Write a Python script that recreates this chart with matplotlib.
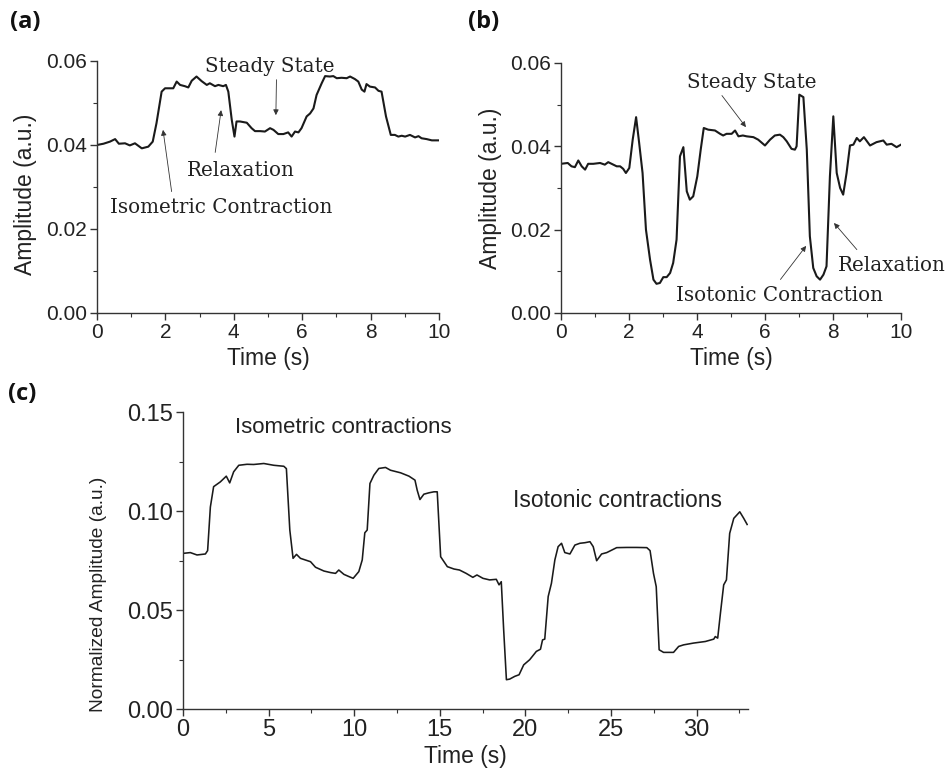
import matplotlib
matplotlib.use("Agg")
import matplotlib.pyplot as plt
from matplotlib.ticker import MultipleLocator, FormatStrFormatter
from matplotlib import font_manager

# ---------------- data ----------------
t_a = [0.0, 0.19, 0.38, 0.53, 0.64, 0.82, 0.96, 1.11, 1.31, 1.50, 1.63, 1.74, 1.89, 1.99,
       2.23, 2.33, 2.43, 2.57, 2.67, 2.77, 2.91, 3.06, 3.21, 3.30, 3.45, 3.55, 3.69, 3.77,
       3.84, 3.94, 4.02, 4.08, 4.18, 4.38, 4.52, 4.62, 4.77, 4.91, 5.06, 5.16, 5.30, 5.45,
       5.59, 5.69, 5.79, 5.89, 5.98, 6.13, 6.23, 6.33, 6.42, 6.57, 6.67, 6.81, 6.91, 7.01,
       7.15, 7.30, 7.40, 7.54, 7.64, 7.74, 7.82, 7.88, 7.98, 8.13, 8.23, 8.32, 8.45, 8.59,
       8.71, 8.81, 8.91, 9.01, 9.15, 9.30, 9.40, 9.49, 9.64, 9.79, 10.0]
amp_a = [0.0400, 0.0403, 0.0408, 0.0414, 0.0403, 0.0404, 0.0399, 0.0404, 0.0392, 0.0396,
         0.0408, 0.0452, 0.0527, 0.0535, 0.0535, 0.0551, 0.0543, 0.0540, 0.0537, 0.0553,
         0.0563, 0.0552, 0.0543, 0.0547, 0.0540, 0.0543, 0.0540, 0.0543, 0.0527, 0.0460,
         0.0420, 0.0456, 0.0456, 0.0453, 0.0440, 0.0433, 0.0433, 0.0432, 0.0440, 0.0436,
         0.0426, 0.0426, 0.0430, 0.0420, 0.0432, 0.0430, 0.0440, 0.0468, 0.0475, 0.0487,
         0.0519, 0.0547, 0.0564, 0.0563, 0.0564, 0.0559, 0.0560, 0.0559, 0.0563, 0.0557,
         0.0551, 0.0532, 0.0527, 0.0545, 0.0539, 0.0537, 0.0529, 0.0527, 0.0468, 0.0424,
         0.0424, 0.0420, 0.0422, 0.0420, 0.0424, 0.0418, 0.0421, 0.0416, 0.0414, 0.0411,
         0.0411]

t_b = [0.0, 0.2, 0.31, 0.41, 0.51, 0.61, 0.71, 0.80, 0.95, 1.15, 1.29, 1.39, 1.54, 1.64,
       1.74, 1.83, 1.91, 2.01, 2.11, 2.21, 2.30, 2.40, 2.50, 2.62, 2.72, 2.81, 2.91, 3.01,
       3.11, 3.21, 3.30, 3.40, 3.50, 3.60, 3.70, 3.79, 3.89, 4.01, 4.11, 4.20, 4.33, 4.53,
       4.68, 4.77, 4.87, 5.02, 5.12, 5.22, 5.35, 5.46, 5.66, 5.80, 6.00, 6.15, 6.29, 6.44,
       6.54, 6.64, 6.78, 6.88, 6.93, 7.01, 7.13, 7.23, 7.32, 7.42, 7.52, 7.62, 7.72, 7.81,
       7.91, 8.01, 8.11, 8.21, 8.30, 8.40, 8.50, 8.60, 8.70, 8.79, 8.91, 9.09, 9.28, 9.48,
       9.58, 9.72, 9.87, 10.0]
amp_b = [0.0358, 0.0360, 0.0352, 0.0350, 0.0366, 0.0352, 0.0344, 0.0358, 0.0358, 0.0360,
         0.0356, 0.0362, 0.0356, 0.0352, 0.0352, 0.0346, 0.0336, 0.0348, 0.0416, 0.0470,
         0.0408, 0.0336, 0.0200, 0.0128, 0.0080, 0.0070, 0.0072, 0.0086, 0.0086, 0.0096,
         0.0120, 0.0176, 0.0376, 0.0398, 0.0292, 0.0272, 0.0280, 0.0328, 0.0392, 0.0444,
         0.0440, 0.0438, 0.0430, 0.0426, 0.0430, 0.0430, 0.0438, 0.0424, 0.0426, 0.0424,
         0.0422, 0.0416, 0.0402, 0.0416, 0.0426, 0.0428, 0.0422, 0.0412, 0.0394, 0.0392,
         0.0400, 0.0524, 0.0518, 0.0392, 0.0184, 0.0108, 0.0088, 0.0080, 0.0092, 0.0112,
         0.0328, 0.0472, 0.0336, 0.0300, 0.0284, 0.0336, 0.0402, 0.0404, 0.0420, 0.0412,
         0.0422, 0.0402, 0.0410, 0.0414, 0.0404, 0.0406, 0.0398, 0.0404]

t_c = [0.0, 0.43, 0.82, 1.31, 1.44, 1.60, 1.79, 2.18, 2.53, 2.73, 2.96, 3.26, 3.74, 4.13,
       4.72, 5.30, 5.89, 6.04, 6.24, 6.43, 6.63, 6.86, 7.45, 7.74, 8.23, 8.62, 8.91, 9.10,
       9.40, 9.69, 9.94, 10.27, 10.47, 10.62, 10.76, 10.92, 11.15, 11.44, 11.83, 12.12,
       12.71, 13.20, 13.55, 13.68, 13.84, 14.07, 14.37, 14.66, 14.85, 15.05, 15.44, 15.83,
       16.15, 16.54, 16.93, 17.17, 17.52, 17.91, 18.30, 18.46, 18.59, 18.73, 18.89, 19.08,
       19.38, 19.63, 19.90, 20.25, 20.64, 20.88, 21.00, 21.13, 21.33, 21.52, 21.72, 21.91,
       22.11, 22.30, 22.60, 22.89, 23.18, 23.48, 23.77, 23.96, 24.16, 24.45, 24.75, 25.33,
       25.92, 26.50, 27.09, 27.28, 27.48, 27.64, 27.81, 28.07, 28.65, 28.95, 29.24, 29.82,
       30.51, 31.00, 31.09, 31.23, 31.39, 31.58, 31.74, 31.93, 32.17, 32.52, 32.75, 32.95]
amp_c = [0.0786, 0.0790, 0.0778, 0.0783, 0.0800, 0.1020, 0.1123, 0.1147, 0.1176, 0.1142,
         0.1198, 0.1231, 0.1236, 0.1235, 0.1240, 0.1231, 0.1226, 0.1214, 0.0904, 0.0761,
         0.0781, 0.0761, 0.0744, 0.0716, 0.0697, 0.0689, 0.0685, 0.0702, 0.0680, 0.0669,
         0.0660, 0.0694, 0.0753, 0.0890, 0.0904, 0.1139, 0.1181, 0.1215, 0.1220, 0.1206,
         0.1193, 0.1176, 0.1156, 0.1105, 0.1058, 0.1085, 0.1092, 0.1097, 0.1097, 0.0769,
         0.0719, 0.0707, 0.0702, 0.0685, 0.0665, 0.0677, 0.0660, 0.0652, 0.0655, 0.0627,
         0.0643, 0.0400, 0.0148, 0.0151, 0.0165, 0.0173, 0.0223, 0.0249, 0.0291, 0.0302,
         0.0349, 0.0353, 0.0568, 0.0635, 0.0753, 0.0820, 0.0837, 0.0790, 0.0783, 0.0828,
         0.0837, 0.0840, 0.0845, 0.0820, 0.0749, 0.0783, 0.0790, 0.0815, 0.0816, 0.0816,
         0.0815, 0.0800, 0.0685, 0.0618, 0.0299, 0.0286, 0.0286, 0.0316, 0.0324, 0.0333,
         0.0341, 0.0353, 0.0366, 0.0358, 0.0484, 0.0627, 0.0652, 0.0887, 0.0963, 0.0996,
         0.0963, 0.0932]

# ---------------- style ----------------
plt.rcParams['font.family'] = ['Liberation Sans', 'DejaVu Sans']
SERIF = ['DejaVu Serif']
AX_COL = '#333333'
TXT_COL = '#222222'

_names = {f.name for f in font_manager.fontManager.ttflist}
if 'Liberation Sans Narrow' in _names:
    NARROW, NARROW_FS = ['Liberation Sans Narrow', 'DejaVu Sans'], 16.5
else:
    NARROW, NARROW_FS = ['Liberation Sans', 'DejaVu Sans'], 13.8

fig = plt.figure(figsize=(9.49, 7.72), dpi=100)
ax_a = fig.add_axes([0.1022, 0.5946, 0.3604, 0.3264])
ax_b = fig.add_axes([0.5911, 0.5946, 0.3583, 0.3238])
ax_c = fig.add_axes([0.1928, 0.0816, 0.5954, 0.3847])


def style(ax, xmaj, xmin, ymaj, ymin, tick_fs):
    for s in ('top', 'right'):
        ax.spines[s].set_visible(False)
    for s in ('left', 'bottom'):
        ax.spines[s].set_color(AX_COL)
        ax.spines[s].set_linewidth(1.0)
    ax.xaxis.set_major_locator(MultipleLocator(xmaj))
    ax.xaxis.set_minor_locator(MultipleLocator(xmin))
    ax.yaxis.set_major_locator(MultipleLocator(ymaj))
    ax.yaxis.set_minor_locator(MultipleLocator(ymin))
    ax.yaxis.set_major_formatter(FormatStrFormatter('%.2f'))
    ax.tick_params(which='major', direction='out', length=5, width=1.0,
                   color=AX_COL, labelsize=tick_fs, labelcolor=TXT_COL, pad=2)
    ax.tick_params(which='minor', direction='out', length=3, width=0.8, color=AX_COL)


arr = dict(arrowstyle='-|>', lw=0.6, color='#333333', mutation_scale=8,
           shrinkA=1, shrinkB=0)
ann_kw = dict(ha='center', va='center', family=SERIF, fontsize=14.3, color=TXT_COL)

# ---- (a) ----
ax_a.plot(t_a, amp_a, color='#1a1a1a', lw=1.5)
ax_a.set_xlim(0, 10)
ax_a.set_ylim(0, 0.06)
style(ax_a, 2, 1, 0.02, 0.01, 15)
ax_a.set_xlabel('Time (s)', fontsize=16.5, color=TXT_COL, labelpad=4)
ax_a.set_ylabel('Amplitude (a.u.)', fontsize=16.5, color=TXT_COL, labelpad=6)
ax_a.yaxis.set_label_coords(-0.175, 0.47)

ax_a.annotate('Steady State', xy=(5.23, 0.0471), xytext=(5.06, 0.0588),
              arrowprops=dict(arr, relpos=(0.55, 0.0)), **ann_kw)
ax_a.annotate('Relaxation', xy=(3.63, 0.0483), xytext=(4.21, 0.0340),
              arrowprops=dict(arr, relpos=(0.25, 1.0), shrinkA=4), **ann_kw)
ax_a.annotate('Isometric Contraction', xy=(1.93, 0.0436), xytext=(3.64, 0.0250),
              arrowprops=dict(arr, relpos=(0.28, 1.0), shrinkA=3), **ann_kw)

# ---- (b) ----
ax_b.plot(t_b, amp_b, color='#1a1a1a', lw=1.5)
ax_b.set_xlim(0, 10)
ax_b.set_ylim(0, 0.06)
style(ax_b, 2, 1, 0.02, 0.01, 15)
ax_b.set_xlabel('Time (s)', fontsize=16.5, color=TXT_COL, labelpad=4)
ax_b.set_ylabel('Amplitude (a.u.)', fontsize=16.5, color=TXT_COL, labelpad=6)

ax_b.annotate('Steady State', xy=(5.44, 0.0446), xytext=(5.60, 0.0554),
              arrowprops=dict(arr, relpos=(0.25, 0.0)), **ann_kw)
ax_b.annotate('Relaxation', xy=(8.03, 0.0216), xytext=(9.74, 0.0115),
              arrowprops=dict(arr, relpos=(0.22, 1.0), shrinkA=3), **ann_kw)
ax_b.annotate('Isotonic Contraction', xy=(7.21, 0.0161), xytext=(6.44, 0.0043),
              arrowprops=dict(arr, relpos=(0.48, 1.0), shrinkA=3), **ann_kw)

# ---- (c) ----
ax_c.plot(t_c, amp_c, color='#1a1a1a', lw=1.15)
ax_c.set_xlim(0, 33)
ax_c.set_ylim(0, 0.15)
style(ax_c, 5, 2.5, 0.05, 0.025, 17)
ax_c.set_xlabel('Time (s)', fontsize=16.5, color=TXT_COL, labelpad=3)
ax_c.set_ylabel('Normalized Amplitude (a.u.)', fontsize=NARROW_FS, family=NARROW,
                color=TXT_COL)
ax_c.yaxis.set_label_coords(-0.135, 0.385)
ax_c.text(9.35, 0.1424, 'Isometric contractions', ha='center', va='center',
          fontsize=16, color=TXT_COL)
ax_c.text(25.4, 0.1052, 'Isotonic contractions', ha='center', va='center',
          fontsize=16.5, color=TXT_COL)

# ---- panel labels ----
for lbl, x, y in (('(a)', 10, 22), ('(b)', 468, 22), ('(c)', 8, 394)):
    fig.text(x / 949, 1 - y / 772, lbl, fontsize=17, fontweight='bold',
             family=['Open Sans', 'DejaVu Sans'], ha='left', va='center', color='#111111')

fig.savefig('out.png', dpi=100, facecolor='white')
